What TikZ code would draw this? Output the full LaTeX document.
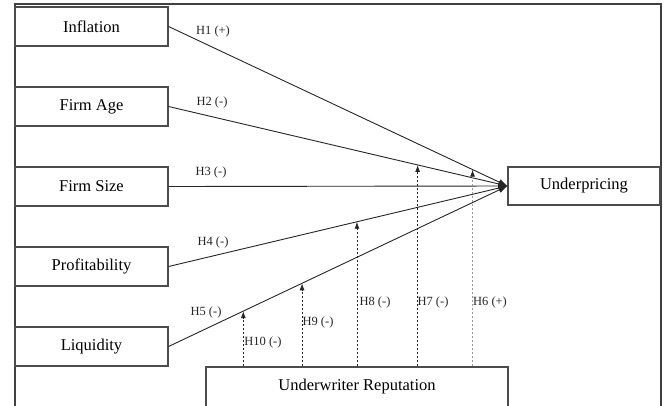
\documentclass[tikz,border=0pt]{standalone}
\usepackage{fontspec}
\setmainfont{Liberation Serif}
\usetikzlibrary{calc,arrows.meta}
\begin{document}
\begin{tikzpicture}[x=1pt,y=-1pt,
  var/.style={draw=black!70,line width=1.1pt,minimum width=153pt,minimum height=39pt,inner sep=0pt,font=\fontsize{16.5}{18}\selectfont},
  path/.style={draw=black!85,line width=0.9pt,-{Latex[length=9pt,width=6.5pt]}},
  moder/.style={draw=black!85,line width=0.9pt,dash pattern=on 2.2pt off 1.8pt,-{Latex[length=7pt,width=5pt,color=black!85]}},
  moderlight/.style={moder,draw=black!40},
  hlab/.style={font=\fontsize{12.5}{14}\selectfont,inner sep=0pt,text=black!85}]
\useasboundingbox (0,0) rectangle (665,405);
\clip (0,0) rectangle (665,405);
\fill[white] (0,0) rectangle (665,405);
\draw[black!75,line width=1.4pt] (15,4) rectangle (661,420);
\node[var] (inf) at (91.5,26.5) {Inflation};
\node[var] (age) at (91.5,106.5) {Firm Age};
\node[var] (size) at (91.5,186.5) {Firm Size};
\node[var] (prof) at (91.5,266.5) {Profitability};
\node[var] (liq) at (91.5,346.5) {Liquidity};
\node[var,minimum width=152pt,minimum height=38pt] (up) at (584,186) {Underpricing};
\node[var,minimum width=302pt,minimum height=40pt] (uw) at (357,387) {Underwriter Reputation};
\draw[path] (inf.east) -- (up.west);
\draw[path] (age.east) -- (up.west);
\draw[path] (size.east) -- (up.west);
\draw[path] (prof.east) -- (up.west);
\draw[path] (liq.east) -- (up.west);
\coordinate (t10) at ($(liq.east)!0.2206!(up.west)$);
\coordinate (t9) at ($(liq.east)!0.394!(up.west)$);
\coordinate (t8) at ($(prof.east)!0.556!(up.west)$);
\coordinate (t7) at ($(age.east)!0.735!(up.west)$);
\coordinate (t6) at ($(inf.east)!0.897!(up.west)$);
\draw[moder] (t10 |- uw.north) -- (t10);
\draw[moder] (t9 |- uw.north) -- (t9);
\draw[moder] (t8 |- uw.north) -- (t8);
\draw[moder] (t7 |- uw.north) -- (t7);
\draw[moderlight] (t6 |- uw.north) -- (t6);
\node[hlab] (l1) at (213,31) {H1 (+)};
\node[hlab] (l2) at (212,102) {H2 (-)};
\node[hlab] (l3) at (211,172) {H3 (-)};
\node[hlab] (l4) at (213,242) {H4 (-)};
\node[hlab] (l5) at (206,312) {H5 (-)};
\node[hlab] (l10) at (263,342) {H10 (-)};
\node[hlab] (l9) at (318,322) {H9 (-)};
\node[hlab] (l8) at (375,302) {H8 (-)};
\node[hlab] (l7) at (433,302) {H7 (-)};
\node[hlab] (l6) at (490,302) {H6 (+)};
\end{tikzpicture}
\end{document}
